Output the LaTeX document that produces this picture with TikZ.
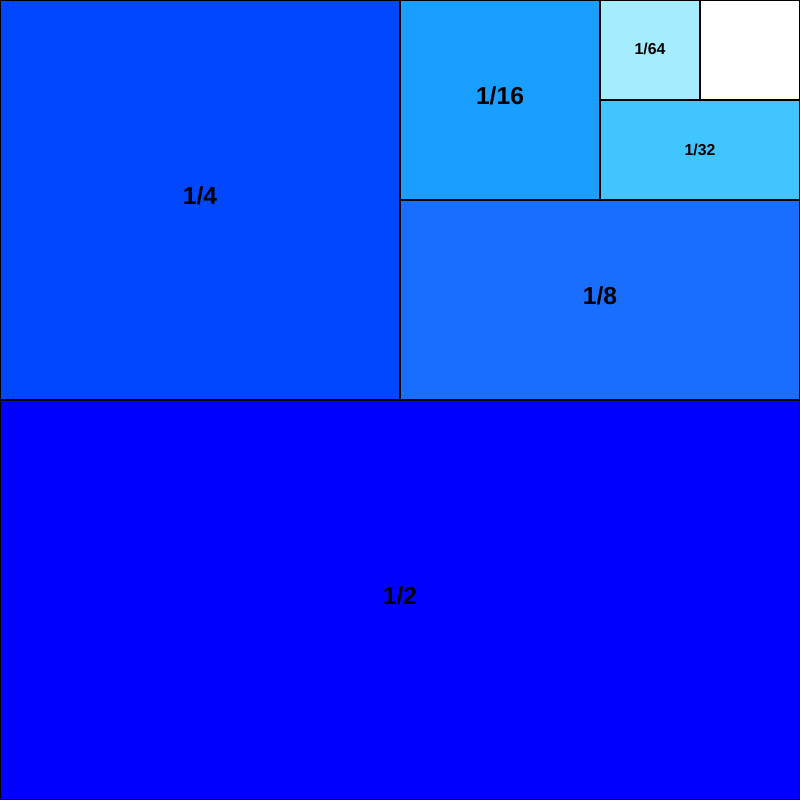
\documentclass[tikz,border=0pt]{standalone}
\usepackage{fontspec}
\setmainfont{Liberation Sans}
\usetikzlibrary{positioning}

\definecolor{halfblue}{HTML}{0000FF}
\definecolor{quarterblue}{HTML}{0047FF}
\definecolor{eighthblue}{HTML}{1A6EFF}
\definecolor{sixteenthblue}{HTML}{1A9EFF}
\definecolor{thirtysecondblue}{HTML}{42C4FF}
\definecolor{sixtyfourthblue}{HTML}{A6ECFF}

\begin{document}
\begin{tikzpicture}[
    every node/.style={font=\fontsize{7}{8}\selectfont\bfseries},
    part/.style={draw=black, line width=0.6pt},
    small/.style={font=\fontsize{4.5}{5}\selectfont\bfseries}
  ]
  \useasboundingbox (0,0) rectangle (8,8);
  \filldraw[part, fill=halfblue]         (0,0) rectangle (8,4);
  \filldraw[part, fill=quarterblue]      (0,4) rectangle (4,8);
  \filldraw[part, fill=eighthblue]       (4,4) rectangle (8,6);
  \filldraw[part, fill=sixteenthblue]    (4,6) rectangle (6,8);
  \filldraw[part, fill=thirtysecondblue] (6,6) rectangle (8,7);
  \filldraw[part, fill=sixtyfourthblue]  (6,7) rectangle (7,8);
  \filldraw[part, fill=white]            (7,7) rectangle (8,8);
  \node (half)      at (4,2.04)    {1/2};
  \node (quarter)   at (2,6.04)    {1/4};
  \node (eighth)    at (6,5.04)    {1/8};
  \node (sixteenth) at (5,7.04)    {1/16};
  \node[small] (thirtysecond) at (7,6.5)  {1/32};
  \node[small] (sixtyfourth)  at (6.5,7.51) {1/64};
\end{tikzpicture}
\end{document}
